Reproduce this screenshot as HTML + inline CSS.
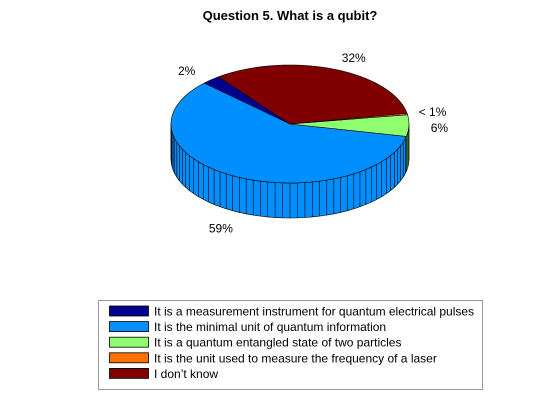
<!DOCTYPE html>
<html><head><meta charset="utf-8"><style>
body{margin:0;background:#fff;}
svg{display:block;font-family:"Liberation Sans",sans-serif;}
</style></head><body>
<svg id="c" width="560" height="420">
<text x="290" y="20" text-anchor="middle" font-size="13" font-weight="bold">Question 5. What is a qubit?</text>
<g id="pie"></g>
<g id="labels"></g>
<g id="legend">
<rect x="98.5" y="300.5" width="384" height="89" fill="#fff" stroke="#999"/>
</g>
</svg>
<script>
const categories=["It is a measurement instrument for quantum electrical pulses","It is the minimal unit of quantum information","It is a quantum entangled state of two particles","It is the unit used to measure the frequency of a laser","I don\u2019t know"];
const values=[6,140,14,1,77];
const pctLabels=["2%","59%","6%","< 1%","32%"];
const colors=["#00008F","#008FFF","#8FFF70","#FF7000","#800000"];
const NS="http://www.w3.org/2000/svg";
const cx=290,cy=124,rx=119,ry=59,depth=35,start=127;
function P(t,dz){const r=t*Math.PI/180;return [cx+rx*Math.cos(r),cy-ry*Math.sin(r)+(dz||0)];}
function arc(a,b,dz,n){let s="";for(let i=0;i<=n;i++){const p=P(a+(b-a)*i/n,dz);s+=(i?"L":"")+p[0].toFixed(2)+","+p[1].toFixed(2)+" ";}return s;}
const pie=document.getElementById("pie");
const total=values.reduce((a,b)=>a+b,0);
let ang=start;const spans=[];
values.forEach(v=>{const b=ang+v/total*360;spans.push([ang,b]);ang=b;});
spans.forEach((s,i)=>{
  for(const off of [0,360]){
    const a=Math.max(s[0],180+off),b=Math.min(s[1],360+off);
    if(b<=a)continue;
    const n=Math.max(2,Math.ceil((b-a)/3.6));
    const el=document.createElementNS(NS,"path");
    const pa=P(b,depth);
    el.setAttribute("d","M"+arc(a,b,0,n)+"L"+pa[0]+","+pa[1]+" L"+arc(b,a,depth,n)+"Z");
    el.setAttribute("fill",colors[i]);el.setAttribute("stroke","#000");el.setAttribute("stroke-width","0.6");
    
    
    pie.appendChild(el);
    for(let t=a;t<=b;t+=3.6){const p1=P(t,0),p2=P(t,depth);const l=document.createElementNS(NS,"line");
      l.setAttribute("x1",p1[0]);l.setAttribute("y1",p1[1]);l.setAttribute("x2",p2[0]);l.setAttribute("y2",p2[1]);
      l.setAttribute("stroke","#000");l.setAttribute("stroke-width","0.6");
      
      
      pie.appendChild(l);}
  }
});
spans.forEach((s,i)=>{
  const n=Math.max(2,Math.ceil((s[1]-s[0])/2));
  const el=document.createElementNS(NS,"path");
  el.setAttribute("d","M"+cx+","+cy+" L"+arc(s[0],s[1],0,n)+"Z");
  el.setAttribute("fill",colors[i]);el.setAttribute("stroke","#000");el.setAttribute("stroke-width","0.6");
  
  
  pie.appendChild(el);
});
const lg=document.getElementById("labels");
spans.forEach((s,i)=>{
  const m=(s[0]+s[1])/2;const r=m*Math.PI/180;
  let x=cx+rx*1.2*Math.cos(r),y=cy-ry*1.2*Math.sin(r)+4;
  if(Math.sin(r)<-0.3)y+=depth;
  if(i===3){x-=12;}
  if(i===2){x-=2;y+=2;}
  if(i===1){x+=10;y+=7;}
  const t=document.createElementNS(NS,"text");
  t.setAttribute("x",x.toFixed(1));t.setAttribute("y",y.toFixed(1));t.setAttribute("font-size","12");
  t.setAttribute("text-anchor",Math.cos(r)>0.3?"start":(Math.cos(r)<-0.3?"end":"middle"));
  t.textContent=pctLabels[i];
  
  
  lg.appendChild(t);
});
const leg=document.getElementById("legend");
categories.forEach((c,i)=>{
  const y=306+i*15.6;
  const r=document.createElementNS(NS,"rect");
  r.setAttribute("x","109.5");r.setAttribute("y",y);r.setAttribute("width","39");r.setAttribute("height","10");
  r.setAttribute("fill",colors[i]);r.setAttribute("stroke","#000");r.setAttribute("stroke-width","0.8");
  
  
  leg.appendChild(r);
  const t=document.createElementNS(NS,"text");
  t.setAttribute("x","154");t.setAttribute("y",y+9.5);t.setAttribute("font-size","12");
  if(i===0)t.setAttribute("textLength","320");
  t.textContent=c;
  
  
  leg.appendChild(t);
});
</script>
</body></html>
